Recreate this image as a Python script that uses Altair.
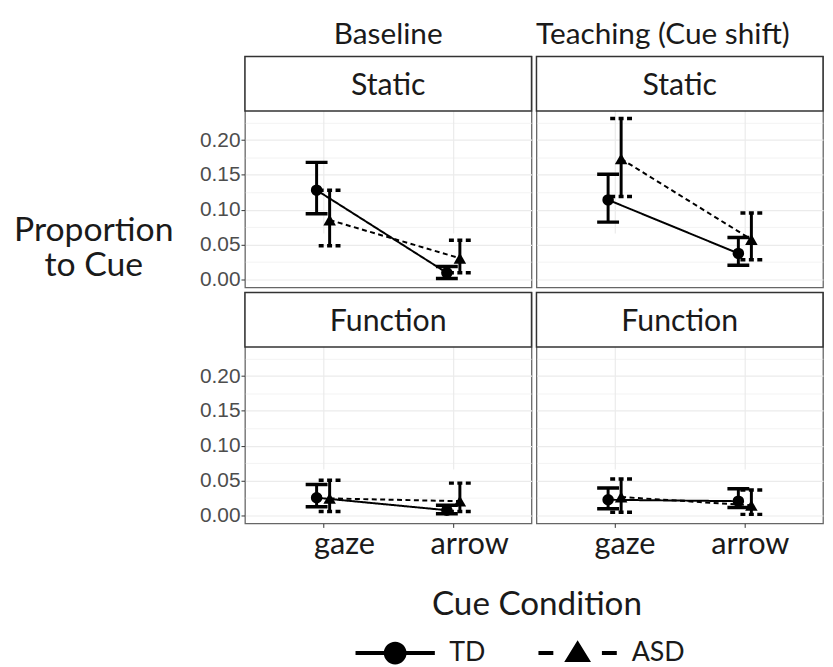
import altair as alt
import pandas as pd

conditions = ["Baseline", "Teaching (Cue shift)"]
tasks = ["Static", "Function"]
cues = ["gaze", "arrow"]
groups = ["TD", "ASD"]

# panels in order: (Baseline, Static), (Teaching, Static), (Baseline, Function), (Teaching, Function)
# each entry: [gaze, arrow]
td_mean = [[0.128, 0.009], [0.114, 0.037], [0.025, 0.007], [0.022, 0.020]]
td_low = [[0.094, 0.001], [0.082, 0.020], [0.012, 0.002], [0.009, 0.011]]
td_high = [[0.168, 0.018], [0.151, 0.060], [0.044, 0.014], [0.039, 0.038]]
asd_mean = [[0.085, 0.030], [0.173, 0.057], [0.024, 0.020], [0.026, 0.014]]
asd_low = [[0.048, 0.009], [0.119, 0.028], [0.005, 0.005], [0.004, 0.001]]
asd_high = [[0.128, 0.056], [0.231, 0.095], [0.050, 0.046], [0.052, 0.036]]

y_ticks = [0.00, 0.025, 0.05, 0.075, 0.10, 0.125, 0.15, 0.175, 0.20, 0.225]
x_ticks = [1, 2]

FONT = "Lato"
PW, STRIP_H, PH, GAP = 289, 55, 178, 5
DODGE = 0.05
CAP = 0.084

records = []
panel_keys = [(t, c) for t in tasks for c in conditions]
for p, (task, cond) in enumerate(panel_keys):
    for g, (m, lo, hi) in zip(groups, [(td_mean, td_low, td_high), (asd_mean, asd_low, asd_high)]):
        for i, cue in enumerate(cues):
            records.append(dict(condition=cond, task=task, group=g, cue=cue,
                                cue_index=i + 1, mean=m[p][i], lo=lo[p][i], hi=hi[p][i]))
df = pd.DataFrame(records)

MINOR = "round(datum.value * 1000) % 50 != 0"
x_label_expr = f"datum.value == 1 ? '{cues[0]}' : '{cues[1]}'"

# legend glyphs (filled outlines, all clockwise): line + circle, dashes + triangle
TD_PATH = ("M-4,-0.2L4,-0.2L4,0.2L-4,0.2Z"
           "M-1.15,0A1.15,1.15,0,1,1,1.15,0A1.15,1.15,0,1,1,-1.15,0Z")
ASD_PATH = ("M-3.95,-0.2L-2.45,-0.2L-2.45,0.2L-3.95,0.2Z"
            "M2.45,-0.2L3.95,-0.2L3.95,0.2L2.45,0.2Z"
            "M0,-1.3L1.35,0.9L-1.35,0.9Z")

yscale = alt.Scale(domain=[-0.012, 0.242], nice=False, zero=False, range=[STRIP_H + PH, STRIP_H])
xscale = alt.Scale(domain=[0.4, 2.6], nice=False, zero=False)
dash = alt.StrokeDash("group:N", scale=alt.Scale(domain=groups, range=[[1, 0], [5, 3.5]]), legend=None)


def y_axis(left, title):
    common = dict(values=y_ticks, grid=True, gridColor="#ebebeb",
                  gridWidth={"condition": {"test": MINOR, "value": 0.6}, "value": 1.2},
                  domain=False)
    if left:
        kw = dict(labelExpr="round(datum.value * 1000) % 50 == 0 ? format(datum.value, '.2f') : ''",
                  labelFont="Liberation Sans", labelFontSize=21, labelColor="#4d4d4d",
                  labelPadding=1, tickSize=4, tickColor="#333333", tickWidth=1,
                  tickOpacity={"condition": {"test": MINOR, "value": 0}, "value": 1})
    else:
        kw = dict(labels=False, ticks=False)
    if title:
        kw.update(title=["Proportion", "to Cue"], titleAngle=0, titleAlign="center",
                  titleBaseline="alphabetic", titleX=-153, titleY=STRIP_H + 131, titleFont=FONT,
                  titleFontSize=34, titleFontWeight="normal", titleColor="#1a1a1a",
                  titleLineHeight=35)
    else:
        kw.update(title=None)
    return alt.Axis(**common, **kw)


def x_axis(bottom, title, shifts):
    common = dict(values=x_ticks, grid=True, gridColor="#ebebeb", gridWidth=1.2, domain=False)
    if bottom:
        kw = dict(labelExpr=x_label_expr, labelFont=FONT, labelFontSize=31, labelColor="#1a1a1a",
                  labelPadding=2, tickSize=4, tickColor="#333333", tickWidth=1,
                  labelOffset={"condition": {"test": "datum.value == 1", "value": shifts[0]},
                               "value": shifts[1]})
    else:
        kw = dict(labels=False, ticks=False)
    if title:
        kw.update(title="Cue Condition", titleX=294, titleY=92, titleAlign="center",
                  titleBaseline="alphabetic", titleFont=FONT, titleFontSize=33.5,
                  titleFontWeight="normal", titleColor="#1a1a1a")
    else:
        kw.update(title=None)
    return alt.Axis(**common, **kw)


def panel(ci, ti):
    cond, task = conditions[ci], tasks[ti]
    left, bottom = ci == 0, ti == 1
    sub = df[(df.condition == cond) & (df.task == task)]
    ya = y_axis(left, left and ti == 0)
    xa = x_axis(bottom, bottom and ci == 0, (21, 16) if ci == 0 else (10, 5))
    base = alt.Chart(sub).transform_calculate(
        xpos=f"datum.cue_index + (datum.group == 'TD' ? {-DODGE} : {DODGE})"
    ).transform_calculate(
        xl=f"datum.xpos - {CAP}", xr=f"datum.xpos + {CAP}"
    )
    X = lambda f: alt.X(f"{f}:Q", scale=xscale, axis=xa)
    Y = lambda f: alt.Y(f"{f}:Q", scale=yscale, axis=ya)
    bars = base.mark_rule(strokeWidth=3, color="black").encode(x=X("xpos"), y=Y("lo"), y2="hi")
    cap_lo = base.mark_rule(strokeWidth=3.5, color="black").encode(x=X("xl"), x2="xr", y=Y("lo"), strokeDash=dash)
    cap_hi = base.mark_rule(strokeWidth=3.5, color="black").encode(x=X("xl"), x2="xr", y=Y("hi"), strokeDash=dash)
    line = base.mark_line(strokeWidth=2, color="black").encode(x=X("xpos"), y=Y("mean"), strokeDash=dash)
    pt_td = base.transform_filter(f"datum.group == '{groups[0]}'").mark_point(
        shape="circle", filled=True, size=135, color="black", opacity=1).encode(x=X("xpos"), y=Y("mean"))
    pt_asd = base.transform_filter(f"datum.group == '{groups[1]}'").mark_point(
        shape="triangle-up", filled=True, size=160, color="black", opacity=1).encode(x=X("xpos"), y=Y("mean"))
    sdf = pd.DataFrame({"task": [task]})
    strip_box = alt.Chart(sdf).mark_rect(fill="white", stroke="#333333", strokeWidth=1.5).encode(
        x=alt.value(0), x2=alt.value(PW), y=alt.value(0), y2=alt.value(STRIP_H))
    strip_txt = alt.Chart(sdf).mark_text(
        font=FONT, fontSize=30.5, color="#1a1a1a", baseline="alphabetic", align="center"
    ).encode(text="task:N", x=alt.value(PW / 2), y=alt.value(38.5))
    layers = [bars, cap_lo, cap_hi, line, pt_td, pt_asd, strip_box, strip_txt]
    if left and bottom:
        leg = base.transform_filter("datum.group == 'none'").mark_point(filled=True, color="black").encode(
            x=X("xpos"), y=Y("mean"),
            shape=alt.Shape("group:N", scale=alt.Scale(domain=groups, range=[TD_PATH, ASD_PATH]),
                            legend=alt.Legend(title=None, orient="none", legendX=138, legendY=350,
                                              direction="horizontal", symbolSize=400,
                                              symbolStrokeWidth=0, symbolFillColor="black",
                                              symbolStrokeColor="black", symbolOpacity=1,
                                              labelFont=FONT, labelFontSize=27, labelColor="#1a1a1a",
                                              labelOffset=41, columnPadding=53, padding=0)))
        layers.append(leg)
    c = alt.layer(*layers).properties(
        width=PW, height=STRIP_H + PH,
        view=alt.ViewBackground(stroke="#666666", strokeWidth=1.3, fill="white"))
    if ti == 0:
        c = c.properties(title=alt.TitleParams(cond, font=FONT, fontSize=30, fontWeight="normal",
                                               color="#1a1a1a", anchor="middle", baseline="alphabetic",
                                               offset=12, dy=30, dx=(0 if ci == 0 else -17)))
    return c


chart = alt.concat(*[panel(ci, ti) for ti in range(2) for ci in range(2)],
                   columns=2, spacing=GAP, bounds="flush").resolve_scale(shape="independent").properties(
    padding={"left": 4, "top": 8, "right": 0, "bottom": 0}
).configure(font=FONT)

chart.save("out.html", embed_options={"renderer": "svg", "actions": False})
